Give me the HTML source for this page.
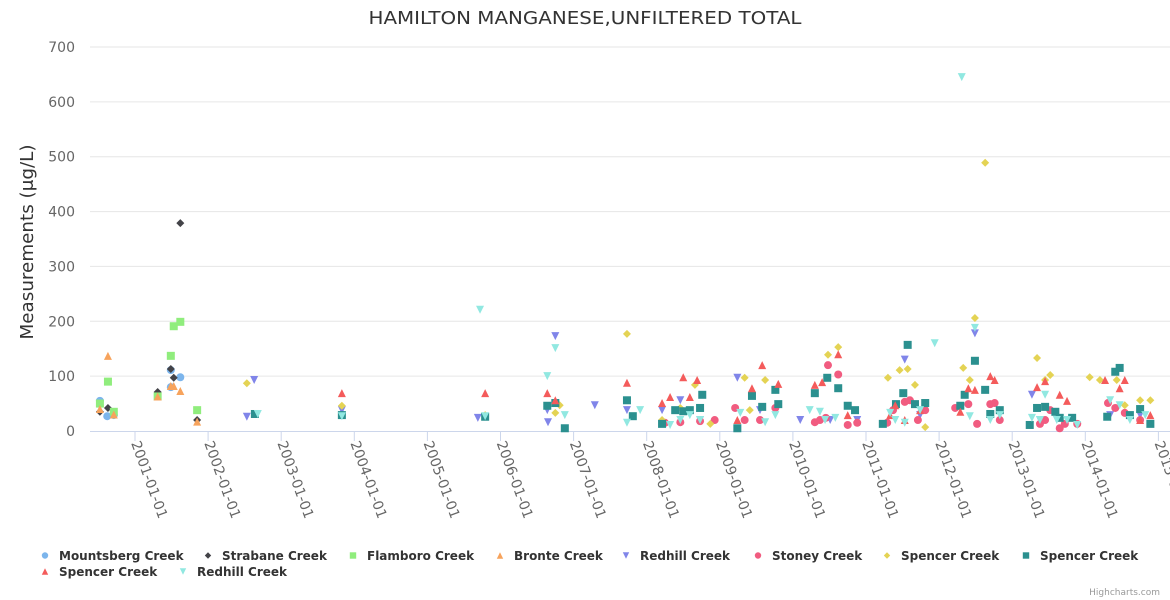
<!DOCTYPE html>
<html><head><meta charset="utf-8">
<style>
html,body{margin:0;padding:0;background:#fff;}
svg{display:block;font-family:"DejaVu Sans","Liberation Sans",sans-serif;}
</style></head>
<body>
<svg id="chart" width="1170" height="600" viewBox="0 0 1170 600">
<text x="585" y="24" text-anchor="middle" font-size="18" textLength="433" lengthAdjust="spacingAndGlyphs" fill="#333">HAMILTON MANGANESE,UNFILTERED TOTAL</text>
<text transform="translate(33,242) rotate(-90)" text-anchor="middle" font-size="18" textLength="195" lengthAdjust="spacingAndGlyphs" fill="#333">Measurements (μg/L)</text>
<g id="grid"></g>
<g id="xaxis"></g>
<g id="yaxis"></g>
<g id="series"></g>
<g id="legend"></g>
<text x="1160" y="595" text-anchor="end" font-size="9" fill="#999">Highcharts.com</text>
</svg>
<script>
// x values = years since 2001-01-01
const yTicks = [0,100,200,300,400,500,600,700];
const xTickLabels = ["2001-01-01","2002-01-01","2003-01-01","2004-01-01","2005-01-01","2006-01-01","2007-01-01","2008-01-01","2009-01-01","2010-01-01","2011-01-01","2012-01-01","2013-01-01","2014-01-01","2015-01-01"];
const seriesNames = ["Mountsberg Creek","Strabane Creek","Flamboro Creek","Bronte Creek","Redhill Creek","Stoney Creek","Spencer Creek","Spencer Creek","Spencer Creek","Redhill Creek"];
const seriesColors = ["#7cb5ec","#434348","#90ed7d","#f7a35c","#8085e9","#f15c80","#e4d354","#2b908f","#f45b5b","#91e8e1"];
const seriesSymbols = ["circle","diamond","square","triangle","triangle-down","circle","diamond","square","triangle","triangle-down"];

const mountsbergX = [-0.48,-0.38,-0.29,0.49,0.62,0.49];
const mountsbergY = [55,27,29,111,98,80];
const strabaneX = [0.62,-0.37,-0.48,0.49,0.53,0.31,0.85];
const strabaneY = [379,42,35,113,97,71,20];
const flamboroX = [-0.37,-0.48,-0.29,0.49,0.53,0.62,0.31,0.85];
const flamboroY = [90,50,35,137,191,199,63,38];
const bronteX = [-0.37,-0.48,-0.29,0.49,0.53,0.62,0.31,0.85];
const bronteY = [137,40,30,82,82,73,63,17];
const redhillX = [1.53,1.63,2.83,4.69,5.75,5.65,5.64,6.29,6.73,7.21,7.46,7.73,8.24,8.55,9.10,9.51,9.88,10.53,10.74,11.49,12.27,12.38,13.34,13.75];
const redhillY = [26,93,38,24,173,16,38,47,38,38,56,20,97,38,20,20,20,130,29,178,66,20,29,29];
const stoneyX = [7.25,7.46,7.73,7.93,8.21,8.34,8.55,8.76,9.30,9.37,9.45,9.48,9.62,9.75,9.88,10.29,10.37,10.53,10.60,10.71,10.81,11.22,11.40,11.52,11.70,11.76,11.83,12.38,12.45,12.52,12.65,12.72,12.89,13.31,13.41,13.54,13.75];
const stoneyY = [15,16,18,20,42,20,20,42,16,20,24,120,103,11,15,15,38,53,56,20,38,42,49,13,49,51,20,13,20,38,5,13,13,51,42,33,20];
const spencerYellowX = [1.53,2.83,4.79,6.73,5.75,5.81,7.21,7.46,7.66,7.87,8.34,8.41,8.62,8.76,9.62,9.48,10.30,10.46,10.57,10.67,10.81,11.33,11.42,11.49,11.63,11.83,12.34,12.45,12.52,13.06,13.20,13.43,13.54,13.75,13.89];
const spencerYellowY = [87,46,29,177,33,47,20,42,84,13,97,38,93,75,153,139,97,111,113,84,7,115,93,206,489,38,133,93,102,98,93,93,47,56,56];
const spencerTealX = [1.64,2.83,4.79,5.64,5.75,5.88,6.73,6.81,7.21,7.39,7.50,7.59,7.73,7.76,8.24,8.44,8.58,8.76,8.80,9.30,9.47,9.62,9.75,9.85,10.23,10.41,10.51,10.57,10.67,10.81,11.29,11.35,11.49,11.63,11.70,11.83,12.24,12.34,12.45,12.59,12.65,12.82,13.30,13.41,13.47,13.61,13.75,13.89];
const spencerTealY = [31,29,26,46,51,5,56,27,13,38,36,38,42,66,5,64,44,75,49,69,97,78,46,38,13,49,69,157,49,51,46,66,128,75,31,38,11,42,44,35,24,24,26,108,115,29,40,13];
const spencerRedX = [2.83,4.79,5.64,5.75,6.73,7.21,7.32,7.50,7.59,7.69,8.24,8.44,8.58,8.80,9.30,9.40,9.62,9.75,10.33,10.40,10.53,10.74,11.29,11.40,11.49,11.70,11.76,12.34,12.45,12.65,12.75,13.27,13.47,13.54,13.75,13.89];
const spencerRedY = [69,69,69,56,88,51,62,98,62,93,20,78,120,86,84,89,140,29,29,47,20,38,35,78,75,100,93,80,91,66,55,93,78,93,20,29];
const redhillCyanX = [1.68,2.83,4.72,4.79,5.64,5.75,5.88,6.73,6.91,7.32,7.46,7.59,7.73,8.28,8.62,8.76,9.23,9.37,9.44,9.58,10.33,10.40,10.53,10.74,10.94,11.31,11.42,11.49,11.70,11.83,12.27,12.38,12.45,12.61,12.75,12.89,13.34,13.47,13.61,13.82];
const redhillCyanY = [31,27,221,27,100,151,29,15,38,11,20,29,20,33,16,29,38,35,20,24,33,20,15,38,160,645,27,188,20,29,24,20,66,20,20,11,56,47,20,29];

const seriesX = [mountsbergX,strabaneX,flamboroX,bronteX,redhillX,stoneyX,spencerYellowX,spencerTealX,spencerRedX,redhillCyanX];
const seriesY = [mountsbergY,strabaneY,flamboroY,bronteY,redhillY,stoneyY,spencerYellowY,spencerTealY,spencerRedY,redhillCyanY];

const NS="http://www.w3.org/2000/svg";
const plotLeft=90, plotRight=1170, y0=431, yPerUnit=384/700;
const x0=135, xPerYear=73.1;
function sx(t){return x0+t*xPerYear;}
function sy(v){return y0-v*yPerUnit;}
function mk(tag,attrs,parent){const e=document.createElementNS(NS,tag);for(const k in attrs)e.setAttribute(k,attrs[k]);parent.appendChild(e);return e;}
function marker(sym,cx,cy,color,parent,s){
  s=s||4;
  let e;
  if(sym==="circle") e=mk("circle",{cx:cx,cy:cy,r:s,fill:color},parent);
  else if(sym==="square") e=mk("rect",{x:cx-s,y:cy-s,width:2*s,height:2*s,fill:color},parent);
  else if(sym==="diamond") e=mk("path",{d:`M${cx},${cy-s}L${cx+s},${cy}L${cx},${cy+s}L${cx-s},${cy}Z`,fill:color},parent);
  else if(sym==="triangle") e=mk("path",{d:`M${cx},${cy-s}L${cx+s},${cy+s}L${cx-s},${cy+s}Z`,fill:color},parent);
  else e=mk("path",{d:`M${cx-s},${cy-s}L${cx+s},${cy-s}L${cx},${cy+s}Z`,fill:color},parent);
  return e;
}
const grid=document.getElementById("grid"), yaxis=document.getElementById("yaxis"), xaxis=document.getElementById("xaxis");
yTicks.forEach(v=>{
  if(v>0){const l=mk("line",{x1:plotLeft,x2:plotRight,y1:sy(v),y2:sy(v),stroke:"#e6e6e6","stroke-width":1},grid);
  
  }
  const t=mk("text",{x:75,y:sy(v)+5,"text-anchor":"end","font-size":14,fill:"#666"},yaxis);
  t.textContent=v;
  
  
});
const axl=mk("line",{x1:plotLeft,x2:plotRight,y1:y0+0.5,y2:y0+0.5,stroke:"#ccd6eb","stroke-width":1},xaxis);


xTickLabels.forEach((lab,i)=>{
  const x=sx(i);
  const tk=mk("line",{x1:x,x2:x,y1:y0,y2:y0+10,stroke:"#ccd6eb","stroke-width":1},xaxis);
  
  
  const t=mk("text",{transform:`translate(${x-4},${y0+12}) rotate(70)`,"font-size":14,fill:"#666"},xaxis);
  t.textContent=lab;
  
  
});
const sg=document.getElementById("series");
seriesX.forEach((xs,si)=>{
  const g=mk("g",{},sg);
  
  
  xs.forEach((t,j)=>{
    const m=marker(seriesSymbols[si],sx(t),sy(seriesY[si][j]),seriesColors[si],g);
    
    
  });
});
const legend=document.getElementById("legend");
const legPos=[[45,556],[208,556],[353,556],[500,556],[626,556],[758,556],[887,556],[1026,556],[45,572],[183,572]];
seriesNames.forEach((n,i)=>{
  const g=mk("g",{},legend);
  
  
  const [lx,ly]=legPos[i];
  marker(seriesSymbols[i],lx,ly-0.5,seriesColors[i],g,3.2);
  const t=mk("text",{x:lx+14,y:ly+4,"font-size":12,"font-weight":"bold",fill:"#333"},g);
  t.textContent=n;
});
</script>
</body></html>
